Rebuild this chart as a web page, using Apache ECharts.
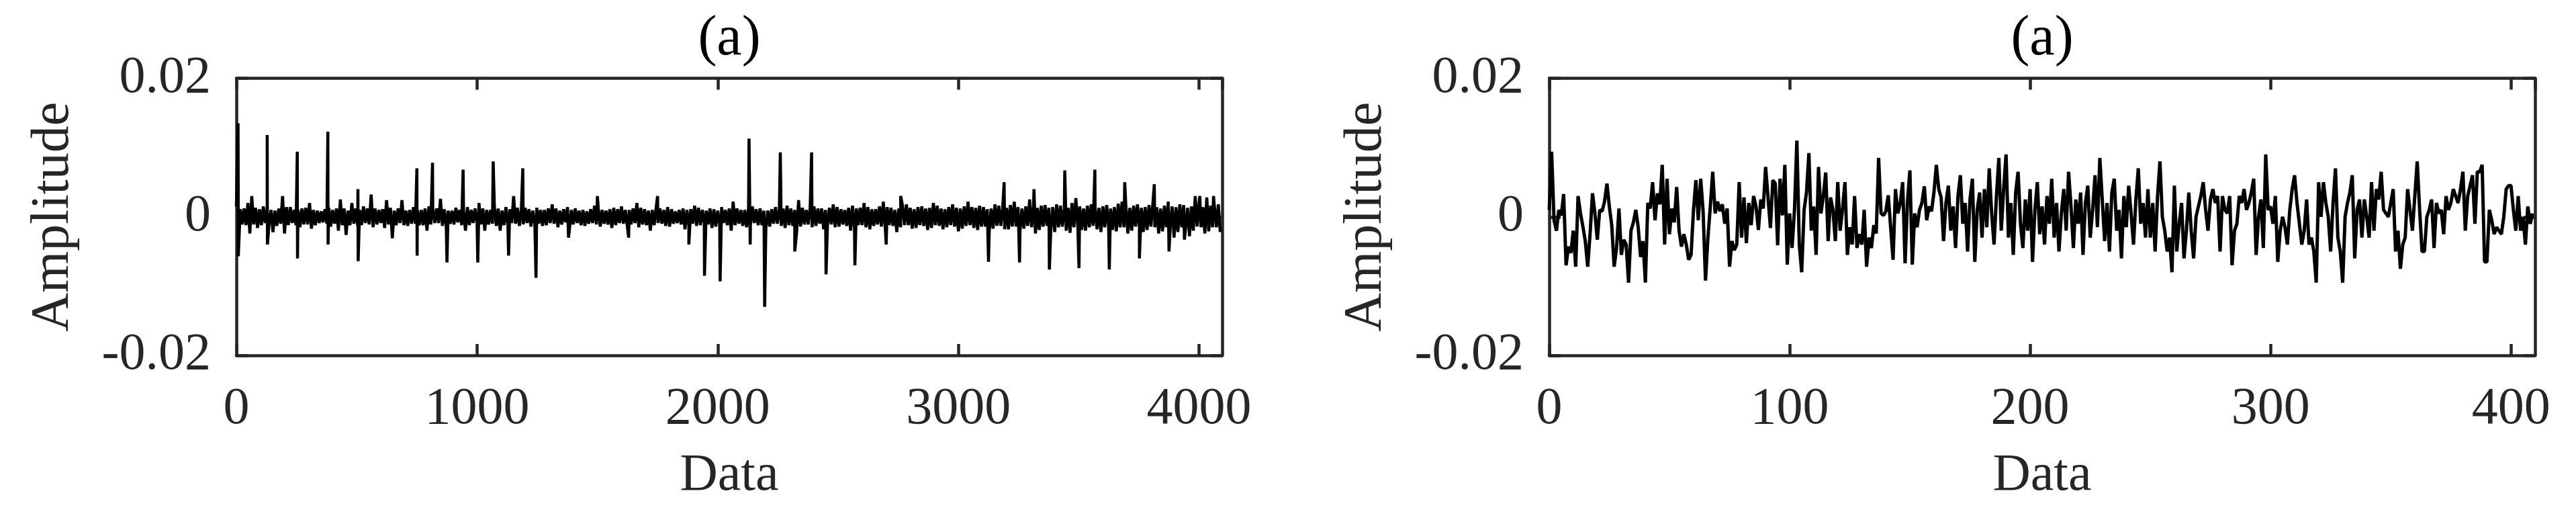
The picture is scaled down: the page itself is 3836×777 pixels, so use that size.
<!DOCTYPE html>
<html>
<head>
<meta charset="utf-8">
<script src="https://cdn.jsdelivr.net/npm/echarts@6/dist/echarts.min.js"></script>
<style>
html,body{margin:0;padding:0;background:#fff;}
#chart{width:3836px;height:777px;}
</style>
</head>
<body>
<div id="chart"></div>
<script>
// ---------- DATA ----------
const titles = ['(a)', '(a)'];
const xNames = ['Data', 'Data'];
const yName = 'Amplitude';
const leftXTicks = [0, 1000, 2000, 3000, 4000];
const rightXTicks = [0, 100, 200, 300, 400];
const yTicks = [-0.02, 0, 0.02];
const leftLength = 4096;
const rightLength = 410;
const binSize = 16;
const bandUnit = 1e-4; // band envelope values below are in units of 1e-4

// left signal: upper / lower envelope of the dense noise band, one pair per 16-sample bin
const bandHi = [
15,11,12,20,30,13,11,15,13,10,9,12,30,14,14,10,10,12,13,20,
10,9,8,11,13,10,12,25,12,9,20,12,10,15,12,32,12,10,11,24,
13,9,12,24,9,10,14,10,10,12,15,11,12,26,11,9,9,13,10,8,
14,10,12,20,12,10,10,15,12,9,14,11,30,13,10,13,11,9,13,10,
10,12,18,12,9,11,14,10,12,9,10,8,11,16,12,10,9,11,13,11,
15,10,10,12,20,13,11,9,10,13,12,10,14,11,8,10,12,10,11,16,
13,10,9,12,11,9,14,10,12,22,12,10,10,13,15,11,12,9,9,11,
14,11,12,16,12,10,24,13,10,13,15,12,12,10,13,18,14,11,10,13,
16,12,13,20,14,11,11,15,22,14,13,10,12,16,18,13,11,14,15,12,
13,20,16,12,11,14,18,13,12,15,22,14,13,16,14,11,12,18,16,13,
13,17,22,14,12,15,25,15,13,16,17,13,14,18,16,12,13,20,27,15,
12,16,18,14,13,15,17,12,14,19,22,15,13,16,18,13,14,17,20,14,
12,16,22,15,14,18,17,13,15,30,20,14,28,16,14,18
];
const bandLo = [
-15,-11,-12,-24,-11,-16,-12,-9,-10,-22,-13,-10,-24,-12,-9,-12,-15,-11,-11,-17,
-12,-9,-8,-10,-14,-10,-20,-12,-26,-12,-10,-13,-12,-9,-11,-15,-11,-9,-16,-11,
-31,-12,-9,-12,-13,-10,-10,-12,-12,-20,-11,-9,-9,-13,-14,-10,-11,-8,-12,-20,
-12,-9,-9,-11,-20,-11,-10,-13,-20,-12,-12,-9,-10,-13,-11,-9,-14,-10,-10,-13,
-12,-9,-10,-15,-11,-8,-18,-11,-9,-12,-13,-10,-9,-11,-14,-10,-11,-16,-12,-9,
-10,-13,-11,-9,-15,-11,-12,-20,-12,-9,-10,-13,-14,-10,-9,-11,-18,-12,-10,-13,
-12,-9,-11,-16,-14,-10,-9,-12,-20,-12,-10,-13,-15,-11,-9,-12,-12,-17,-14,-10,
-10,-13,-16,-12,-13,-22,-14,-11,-11,-15,-13,-10,-18,-12,-11,-15,-14,-11,-13,-20,
-16,-12,-12,-15,-18,-13,-11,-14,-16,-12,-13,-22,-15,-12,-12,-17,-16,-12,-13,-19,
-16,-12,-13,-18,-15,-12,-14,-21,-17,-13,-12,-16,-19,-14,-14,-22,-17,-13,-13,-18,
-18,-14,-14,-20,-17,-13,-15,-24,-19,-14,-13,-18,-22,-15,-14,-20,-23,-15,-14,-19,
-20,-15,-13,-18,-22,-15,-14,-19,-21,-15,-15,-24,-20,-14,-15,-22,-19,-14,-15,-24,
-21,-15,-16,-30,-22,-15,-16,-28,-20,-14,-15,-24,-21,-15,-15,-22
];
// left signal: isolated impulses (sample index, amplitude)
const spikeIdx = [7,8,128,129,253,254,380,381,505,506,750,751,815,875,942,1003,1067,1131,1190,1245,
1380,1500,1630,1750,1880,1945,2010,2130,2135,2195,2260,2320,2390,2450,2570,2700,2760,3125,3190,
3254,3314,3378,3442,3501,3567,3627,3691,3752,3814,3875,3939,4003,4060];
const spikeVal = [0.0135,-0.0057,0.0118,-0.0040,0.0094,-0.0060,0.0123,-0.0040,0.0040,-0.0064,0.0070,-0.0056,0.0078,-0.0066,0.0068,-0.0066,0.0080,-0.0056,0.0070,-0.0088,
-0.0030,0.0030,-0.0030,0.0030,-0.0040,-0.0085,-0.0093,0.0113,-0.0040,-0.0130,0.0093,-0.0050,0.0093,-0.0083,-0.0070,-0.0040,0.0030,-0.0065,0.0050,
-0.0066,0.0040,-0.0076,0.0067,-0.0074,0.0068,-0.0076,0.0050,-0.0060,0.0047,-0.0050,-0.0033,0.0030,0.0030];

// right signal, samples 0..409
const rightVals = [
0.001,0.0094,-0.0005,-0.002,0.001,0.0002,0.0033,-0.007,-0.0043,-0.0052,
-0.002,-0.0072,0.003,0.0005,-0.0014,-0.0035,-0.0072,-0.0024,0.0034,0.0005,
-0.0033,0.001,0.0008,0.0022,0.0048,0.0015,-0.0012,-0.0072,-0.0045,0.0012,
-0.0055,-0.0033,-0.004,-0.0095,-0.002,-0.0008,0.001,-0.0015,-0.0058,-0.0035,
-0.0095,0.002,0.0012,0.005,-0.0005,0.0034,0.0018,0.0075,-0.004,0.0055,
-0.0025,0.0012,-0.0008,0.0043,-0.002,-0.0043,-0.0025,-0.004,-0.0062,-0.0055,
0.001,0.0053,-0.0005,0.0055,0.0008,-0.0092,-0.003,0.0015,0.0065,0.0005,
0.0022,0.0008,0.0018,-0.001,0.0012,-0.0072,-0.0035,-0.0048,-0.004,0.005,
-0.003,0.0028,-0.0038,0.002,-0.0012,0.003,0.0015,-0.0019,0.0025,0.0012,
0.0072,0.0028,-0.0016,0.0053,0.0048,-0.0041,0.0055,0.0002,0.0075,-0.0069,
0.0005,-0.0045,0.001,0.011,-0.004,-0.008,0.001,0.0035,0.0092,-0.002,
0.0015,-0.0055,0.0072,0.0005,0.003,0.0064,-0.0035,0.0028,0.001,-0.0035,
0.005,-0.002,0.0012,0.005,-0.0055,-0.0015,-0.004,0.003,-0.0045,-0.0025,
-0.004,0.001,-0.0072,-0.003,-0.0045,-0.0012,-0.0024,0.0085,0.0005,0.0002,
0.0008,0.0031,-0.0015,-0.0062,0.004,0.0005,0.002,0.005,-0.0067,0.0022,
0.0067,-0.0069,0.0005,-0.0015,0.001,0.002,0.0044,-0.0005,0.0015,0.0008,
0.0035,0.0075,0.004,0.0028,-0.0035,0.002,0.0045,-0.002,0.0015,-0.0045,
0.003,0.006,-0.001,0.002,-0.005,0.0025,0.0055,-0.0065,0.001,0.0035,
-0.003,0.004,-0.0015,0.007,0.0005,-0.004,0.003,0.0085,-0.002,0.004,
0.009,-0.003,0.002,-0.0055,0.0035,0.0065,-0.001,-0.0045,0.0025,-0.002,
0.004,-0.0065,0.001,0.005,-0.0025,0.0015,-0.004,0.003,-0.001,0.0055,
-0.003,0.002,-0.005,0.0005,0.004,-0.002,0.0065,0.0015,-0.0045,0.0025,
-0.001,0.0035,-0.0055,0.002,0.0045,-0.003,0.001,0.006,-0.0015,0.0085,
0.0025,-0.0035,0.002,-0.005,0.0035,0.0055,-0.002,0.001,-0.006,0.003,
-0.0015,0.0045,0.0005,-0.004,0.0025,0.007,-0.001,0.002,-0.003,0.004,
-0.003,0.002,-0.005,0.003,0.008,0.0,-0.002,-0.005,-0.003,-0.008,
0.0045,-0.005,-0.001,0.002,-0.006,-0.002,0.0035,-0.002,-0.006,0.0,
0.0015,0.003,0.005,0.001,-0.002,0.0025,0.004,0.002,0.003,-0.005,
0.003,0.001,0.0005,0.003,-0.007,-0.002,-0.001,0.003,0.002,0.004,
0.001,0.002,0.0035,0.0055,-0.0055,0.0,0.0025,-0.0045,0.009,0.001,
0.0015,-0.001,0.003,-0.0065,-0.002,0.0,-0.0015,-0.004,0.001,0.004,
0.006,0.002,-0.001,-0.004,-0.002,0.0025,-0.004,-0.003,-0.005,-0.0095,
0.005,0.0,0.005,0.002,0.0,-0.005,0.002,0.007,-0.003,-0.005,
-0.0095,0.0,0.002,0.0035,0.006,-0.006,0.001,0.0025,-0.003,0.0025,
0.0,-0.003,0.005,-0.002,0.004,0.0025,0.0065,0.001,0.0005,0.0,
0.002,0.004,-0.005,-0.002,-0.0075,-0.004,-0.003,0.004,0.001,-0.002,
0.003,0.008,0.001,-0.005,-0.005,0.0,0.001,0.0025,-0.0045,0.002,
0.0005,0.001,-0.0025,0.003,0.001,0.002,0.004,0.003,0.002,0.004,
0.0065,-0.002,0.003,0.0045,0.006,-0.001,0.0065,0.0065,0.0075,-0.0065,
-0.0065,0.001,-0.0005,-0.0025,-0.0015,-0.002,-0.0025,0.0,0.004,0.0045,
0.0045,0.001,-0.002,0.003,-0.002,0.0,-0.004,0.0015,-0.001,0.0005
];

// ---------- BUILD ----------
const leftData = [];
for (let i = 0; i < bandHi.length; i++) {
  leftData.push([i * binSize, bandHi[i] * bandUnit]);
  leftData.push([i * binSize + binSize / 2, bandLo[i] * bandUnit]);
}
for (let k = 0; k < spikeIdx.length; k++) leftData.push([spikeIdx[k], spikeVal[k]]);
leftData.sort((a, b) => a[0] - b[0]);
const rightData = rightVals.map((v, i) => [i, v]);

const FONT = 'Liberation Serif';
const TXT = '#262626';
const AX = '#262626';
const LW = 4.5;
const grids = [
  {left: 352, top: 116.5, width: 1468, height: 412.5},
  {left: 2307, top: 116.5, width: 1468, height: 412.5}
];
const xMax = [leftLength, rightLength];
const xInt = [leftXTicks[1] - leftXTicks[0], rightXTicks[1] - rightXTicks[0]];

const xAxes = [], yAxes = [];
for (let g = 0; g < 2; g++) {
  const common = {
    type: 'value', gridIndex: g, min: 0, max: xMax[g], interval: xInt[g],
    axisLine: {show: true, onZero: false, lineStyle: {color: AX, width: LW}},
    axisTick: {show: true, inside: true, length: 17, lineStyle: {color: AX, width: LW}},
    splitLine: {show: false}
  };
  xAxes.push(Object.assign({}, common, {
    position: 'bottom',
    name: xNames[g], nameLocation: 'middle', nameGap: 180,
    nameTextStyle: {fontFamily: FONT, fontSize: 78, color: TXT, verticalAlign: 'middle'},
    axisLabel: {show: true, fontFamily: FONT, fontSize: 78, color: TXT, margin: 81,
      verticalAlign: 'middle', showMaxLabel: false, showMinLabel: true,
      formatter: v => String(Math.round(v))}
  }));
  xAxes.push(Object.assign({}, common, {position: 'top', axisLabel: {show: false}}));
  const ycommon = {
    type: 'value', gridIndex: g, min: yTicks[0], max: yTicks[yTicks.length - 1], interval: yTicks[1] - yTicks[0],
    axisLine: {show: true, onZero: false, lineStyle: {color: AX, width: LW}},
    axisTick: {show: true, inside: true, length: 17, lineStyle: {color: AX, width: LW}},
    splitLine: {show: false}
  };
  yAxes.push(Object.assign({}, ycommon, {
    position: 'left',
    name: yName, nameLocation: 'middle', nameGap: 272,
    nameTextStyle: {fontFamily: FONT, fontSize: 80, color: TXT, verticalAlign: 'middle'},
    axisLabel: {show: true, fontFamily: FONT, fontSize: 78, color: TXT, margin: 38,
      formatter: v => (Math.abs(v) < 1e-12 ? '0' : String(+v.toFixed(4)))}
  }));
  yAxes.push(Object.assign({}, ycommon, {position: 'right', axisLabel: {show: false}}));
}

const chart = echarts.init(document.getElementById('chart'), null, {renderer: 'canvas'});
chart.setOption({
  animation: false,
  backgroundColor: '#fff',
  grid: grids,
  xAxis: xAxes,
  yAxis: yAxes,
  graphic: titles.map((t, g) => ({
    type: 'text', x: grids[g].left + grids[g].width / 2, y: 58.6, z: 10,
    style: {text: t, font: '84px "' + FONT + '"', fill: '#000', align: 'center', verticalAlign: 'middle'}
  })),
  series: [
    {type: 'line', xAxisIndex: 0, yAxisIndex: 0, data: leftData, showSymbol: false, symbol: 'none',
      lineStyle: {color: '#000', width: 4.5}, clip: true, silent: true},
    {type: 'line', xAxisIndex: 2, yAxisIndex: 2, data: rightData, showSymbol: false, symbol: 'none',
      lineStyle: {color: '#000', width: 5}, clip: true, silent: true}
  ]
});
</script>
</body>
</html>
